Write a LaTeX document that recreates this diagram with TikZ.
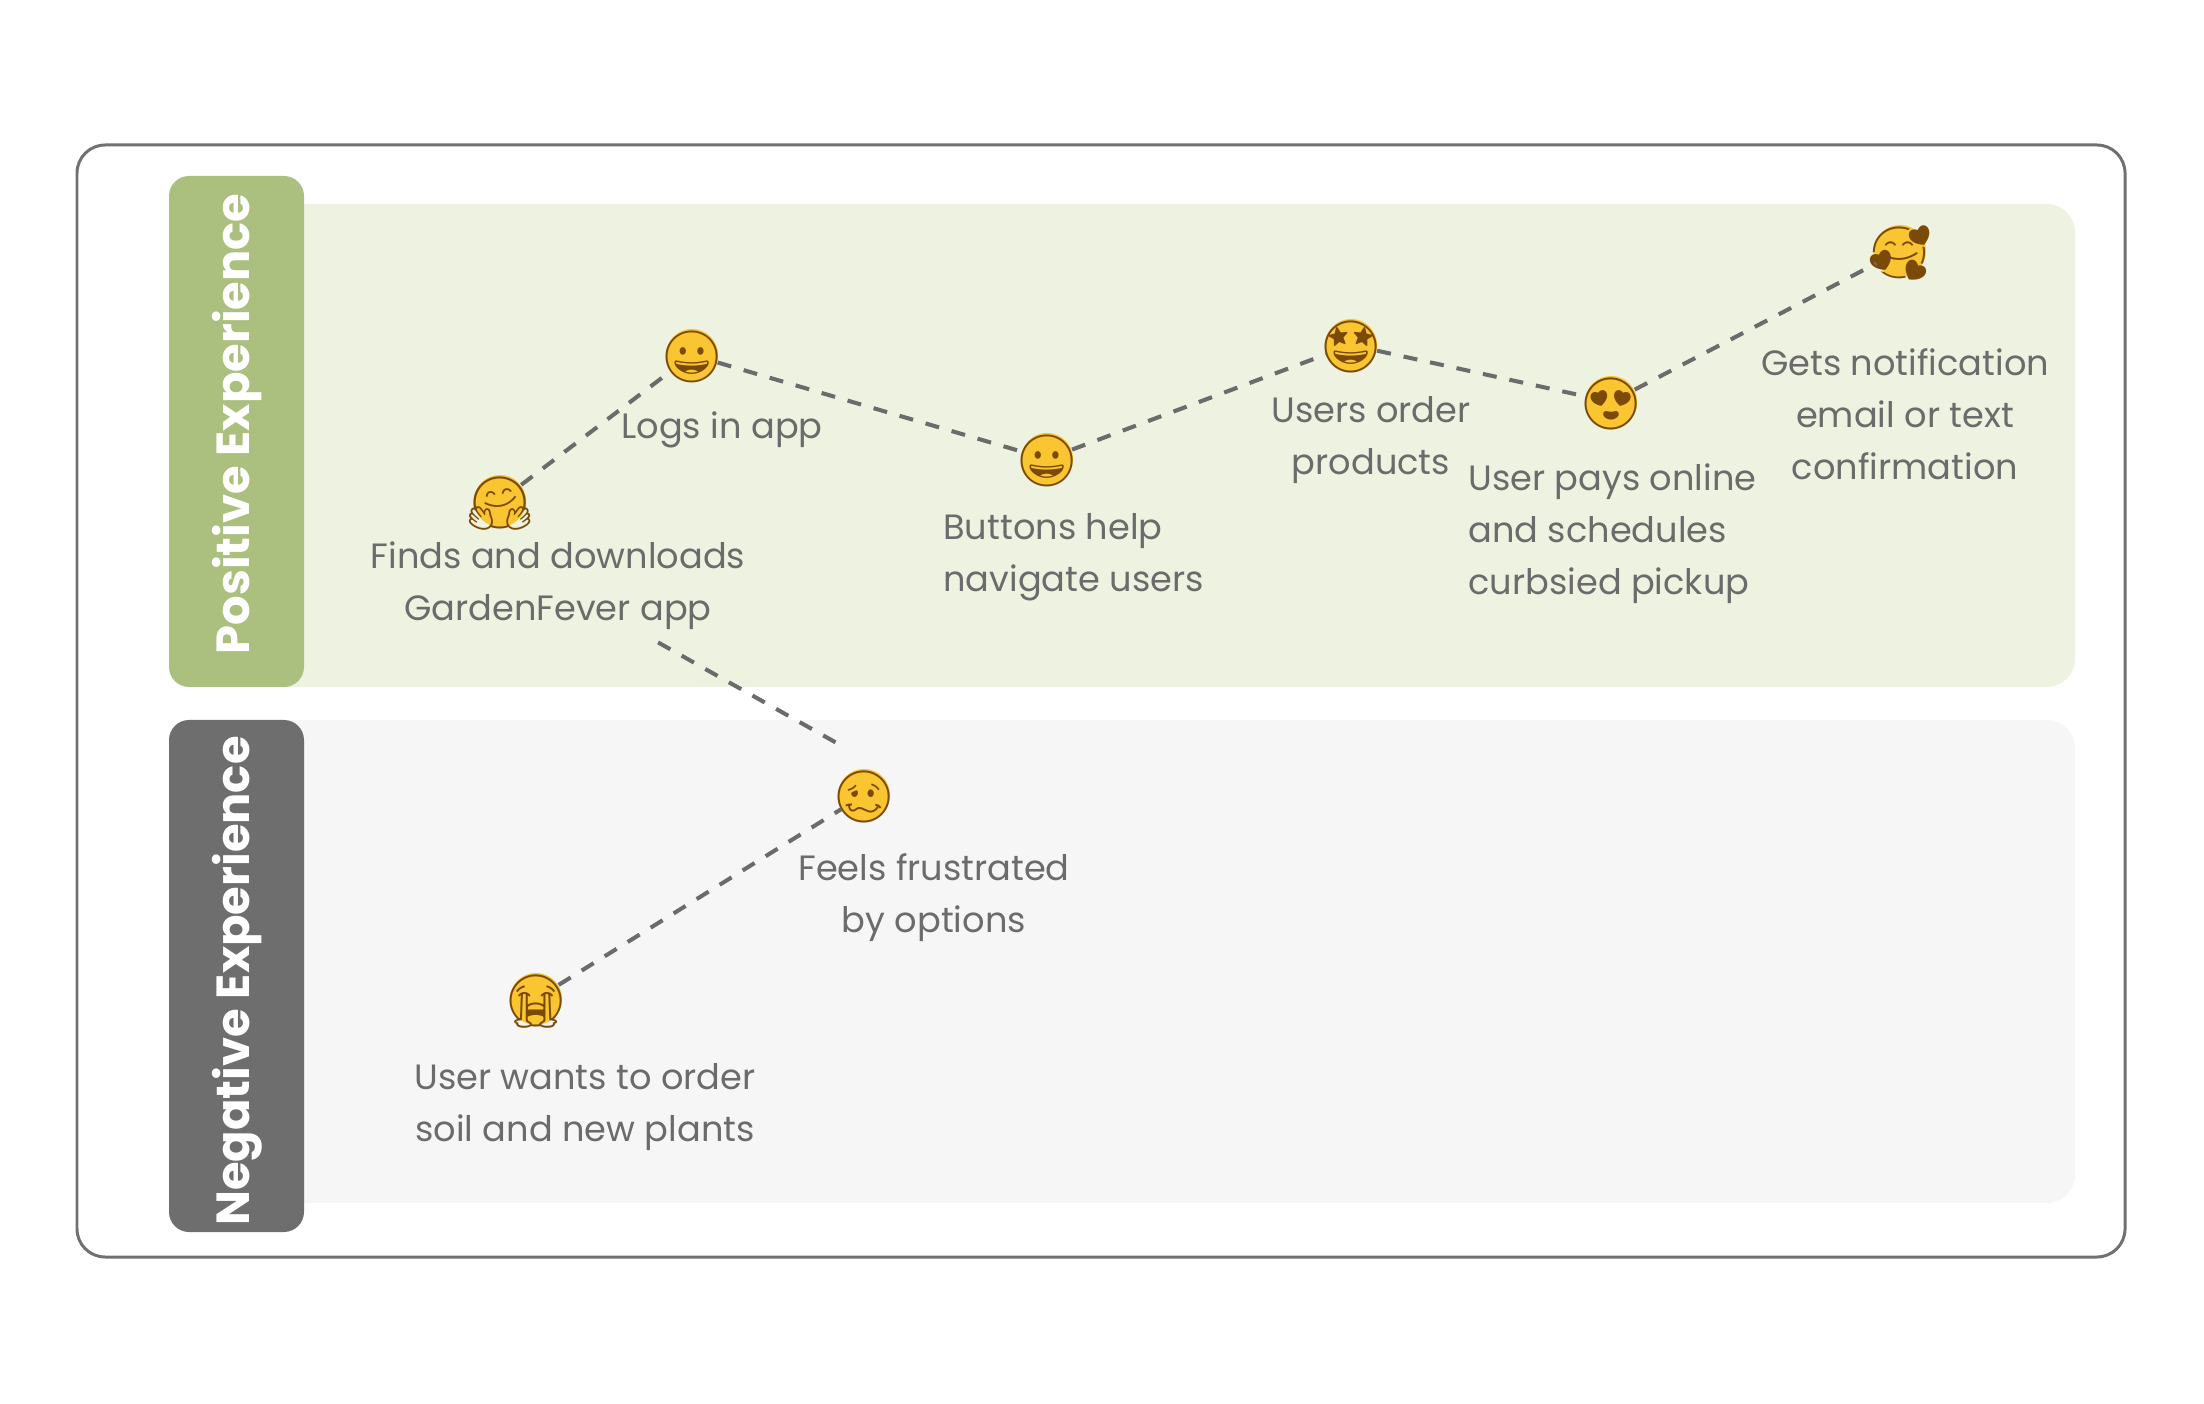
\documentclass[tikz,border=0pt]{standalone}
\usepackage{fontspec}
\setmainfont{Poppins}
\newfontfamily\emojifont{Noto Emoji}
\definecolor{framegray}{HTML}{707070}
\definecolor{posband}{HTML}{EEF2E1}
\definecolor{postab}{HTML}{ABC07F}
\definecolor{negband}{HTML}{F6F6F6}
\definecolor{negtab}{HTML}{6E6E6E}
\definecolor{labelgray}{HTML}{6B6B6B}
\definecolor{faceyellow}{HTML}{F9C531}
\definecolor{facebrown}{HTML}{7A4A06}
\newcommand\facechar[1]{\raisebox{-.38em}[0pt][0pt]{\makebox[0pt]{#1}}}
\tikzset{
  steplabel/.style={text=labelgray, font=\fontsize{10}{14.8}\selectfont, align=center},
  face/.style={circle, minimum size=14.8pt, inner sep=0pt, fill=faceyellow,
    text=facebrown, font=\emojifont\fontsize{14.6}{14.6}\selectfont},
  lanetitle/.style={text=white, rotate=90, font=\bfseries\fontsize{13.2}{16}\selectfont},
  journey/.style={draw=labelgray, line width=1.15pt, dash pattern=on 4pt off 3.7pt},
}
\begin{document}
\begin{tikzpicture}[x=0.01cm, y=-0.01cm]
  \useasboundingbox (0,0) rectangle (2204,1404);
  % frame and lanes
  \draw[framegray, line width=0.85pt, rounded corners=8pt] (77,145) rectangle (2125,1257);
  \fill[posband, rounded corners=8pt] (250,204) rectangle (2075,687);
  \fill[negband, rounded corners=8pt] (250,720) rectangle (2075,1203);
  \fill[postab, rounded corners=5.7pt] (169,176) rectangle (304,687);
  \fill[negtab, rounded corners=5.7pt] (169,720) rectangle (304,1232);
  \node (pos) [lanetitle] at (237,424) {Positive Experience};
  \node (neg) [lanetitle] at (237,981) {Negative Experience};

  % faces
  \node (hug)    [face] at (500,501)  {\facechar{🤗}};
  \node (login)  [face] at (692,355)  {\facechar{😀}};
  \node (button) [face] at (1047,459) {\facechar{😀}};
  \node (order)  [face] at (1351,345) {\facechar{🤩}};
  \node (pay)    [face] at (1611,402) {\facechar{😍}};
  \node (notify) [face] at (1900,251) {\facechar{🥰}};
  \node (woozy)  [face] at (864,795)  {\facechar{🥴}};
  \node (cry)    [face] at (536,999)  {\facechar{😭}};

  % labels
  \node (hugtxt)    [steplabel] at (558,586)  {Finds and downloads\\GardenFever app};
  \node (logintxt)  [steplabel] at (722,430)  {Logs in app};
  \node (buttontxt) [steplabel, align=left, anchor=west] at (931,557) {Buttons help\\navigate users};
  \node (ordertxt)  [steplabel] at (1371,440) {Users order\\products};
  \node (paytxt)    [steplabel, align=left, anchor=west] at (1456,534) {User pays online\\and schedules\\curbsied pickup};
  \node (notifytxt) [steplabel] at (1905,414) {Gets notification\\email or text\\confirmation};
  \node (woozytxt)  [steplabel] at (934,898)  {Feels frustrated\\by options};
  \node (crytxt)    [steplabel] at (585,1107) {User wants to order\\soil and new plants};
  \coordinate (woozyin) at (842,746);

  % journey line
  \path[journey]
    (cry)    edge (woozy)
    (hugtxt) edge (woozyin)
    (hug)    edge (login)
    (login)  edge (button)
    (button) edge (order)
    (order)  edge (pay)
    (pay)    edge (notify);
\end{tikzpicture}
\end{document}
